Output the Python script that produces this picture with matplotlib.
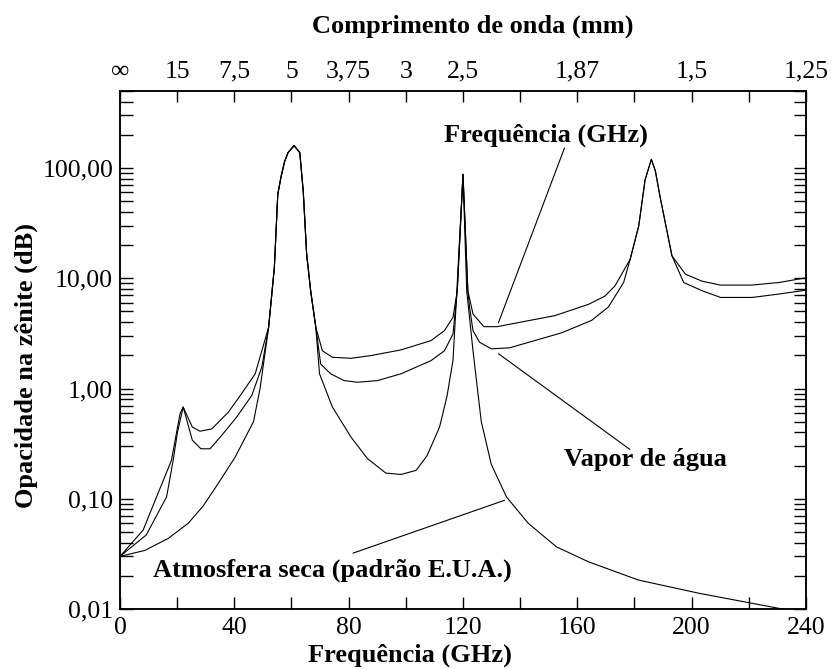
import numpy as np
import matplotlib.pyplot as plt
from matplotlib.ticker import LogLocator, NullFormatter

# Fonte com serifa parecida com Times
plt.rcParams['font.family'] = ['Liberation Serif', 'DejaVu Serif']

# Curva superior (total)
freq_total = [0, 8.1, 12.8, 18, 19.8, 21, 22.1, 25.3, 28, 32.1, 37.9, 42.5, 47.3, 52,
              54, 55.2, 56.4, 57.6, 58.8, 60.9, 62.9, 64.1, 65.3, 66.7, 68.5,
              70.8, 74.3, 80.8, 87.8, 98.3, 108.8, 113.5, 116.5, 118, 120, 121.7,
              123.5, 127.3, 132, 142.8, 152.1, 163.9, 169.7, 173.2, 178.5, 181.5,
              183.7, 185.9, 187.3, 189, 193.1, 197.8, 203.7, 210.1, 221, 230.6, 240]
opac_total = [0.03, 0.052, 0.104, 0.223, 0.40, 0.59, 0.68, 0.447, 0.41, 0.43, 0.61, 0.895, 1.36, 3.6,
              12.5, 57.8, 84.7, 115, 138, 160, 138, 62, 16.6, 7.7, 3.6,
              2.2, 1.92, 1.88, 1.99, 2.24, 2.72, 3.35, 4.42, 7.7, 87.7, 7.7,
              4.74, 3.64, 3.64, 4.12, 4.58, 5.8, 6.9, 8.55, 14.9, 30,
              78, 120, 94, 54, 16, 10.9, 9.4, 8.67, 8.67, 9.16, 10.1]

# Curva do vapor de agua
freq_vapor = [0, 9.2, 16.3, 18.6, 20.1, 22.1, 25.3, 28.3, 31.5, 35.6, 40.8, 46.1, 49.6, 52,
              54, 55.2, 56.4, 57.6, 58.8, 60.9, 62.9, 64.1, 65.3, 66.7, 68.5,
              70.2, 73.7, 78.4, 83.1, 90.1, 98.3, 108.8, 113.5, 116.5, 118, 120, 121.7,
              122.3, 123.5, 125.8, 129.9, 136.3, 154.5, 165, 170.9, 176.2, 178.5, 181.5,
              183.7, 185.9, 187.3, 189, 193.1, 197.2, 203.7, 210.1, 221.2, 230.6, 240]
opac_vapor = [0.03, 0.047, 0.104, 0.223, 0.40, 0.68, 0.34, 0.284, 0.284, 0.376, 0.55, 0.865, 1.56, 3.6,
              12.5, 57.8, 84.7, 115, 138, 160, 138, 62, 16.6, 7.7, 3.6,
              1.67, 1.36, 1.18, 1.14, 1.18, 1.36, 1.79, 2.2, 3.12, 7.7, 87.7, 7.7,
              5.45, 3.35, 2.63, 2.29, 2.34, 3.2, 4.15, 5.5, 9.16, 14.9, 30,
              78, 120, 94, 54, 16, 9.16, 7.7, 6.7, 6.7, 7.2, 7.8]

# Curva da atmosfera seca
freq_seca = [0, 8.7, 16.9, 23.9, 29.1, 34.4, 40.3, 46.7, 49, 52,
             54, 55.2, 56.4, 57.6, 58.8, 60.9, 62.9, 64.1, 65.3, 66.7, 68.5,
             69.8, 74.3, 80.8, 86.6, 93, 98.3, 103.6, 107.4, 111.8, 114.4, 116.5, 117.6,
             120, 121.3, 123.5, 126.4, 129.9, 135.2, 142.8, 152.7, 163.9, 181.4, 202.5, 231.7, 240]
opac_seca = [0.03, 0.034, 0.0437, 0.06, 0.086, 0.138, 0.239, 0.50, 1.0, 3.6,
             12.5, 57.8, 84.7, 115, 138, 160, 138, 62, 16.6, 7.7, 3.6,
             1.36, 0.68, 0.363, 0.231, 0.171, 0.166, 0.181, 0.245, 0.447, 0.85, 1.8, 5.85,
             87.7, 7.7, 2.2, 0.5, 0.205, 0.104, 0.06, 0.0366, 0.0268, 0.0183, 0.0139, 0.01, 0.0088]

# Eixos e rotulos
x_ticks = [0, 20, 40, 60, 80, 100, 120, 140, 160, 180, 200, 220, 240]
x_labels = ['0', '', '40', '', '80', '', '120', '', '160', '', '200', '', '240']
top_labels = ['\u221e', '15', '7,5', '5', '3,75', '3', '2,5', '', '1,87', '', '1,5', '', '1,25']
y_ticks = [0.01, 0.1, 1, 10, 100]
y_labels = ['0,01', '0,10', '1,00', '10,00', '100,00']

fig = plt.figure(figsize=(8.38, 6.69), dpi=100)
ax = fig.add_axes([0.1432, 0.0897, 0.8186, 0.7743])

ax.plot(freq_total, opac_total, color='black', lw=0.8)
ax.plot(freq_vapor, opac_vapor, color='black', lw=0.8)
ax.plot(freq_seca, opac_seca, color='black', lw=0.8)

ax.set_yscale('log')
ax.set_xlim(0, 240)
ax.set_ylim(0.01, 500)

ax.set_yticks(y_ticks, y_labels)
ax.yaxis.set_minor_locator(LogLocator(base=10, subs=np.arange(2, 10)))
ax.yaxis.set_minor_formatter(NullFormatter())
ax.tick_params(axis='y', which='both', direction='in', length=9, width=1,
               right=True, labelsize=18.5, pad=5)
ax.set_xticks(x_ticks, x_labels)
ax.tick_params(axis='x', direction='in', length=9, width=1, labelsize=18.5, pad=6)

# Eixo superior: comprimento de onda
ax2 = ax.twiny()
ax2.set_xlim(0, 240)
ax2.set_xticks(x_ticks, top_labels)
ax2.tick_params(axis='x', direction='in', length=8, width=1, labelsize=18.5, pad=6)

for a in (ax, ax2):
    for s in a.spines.values():
        s.set_linewidth(1.1)

fig.text(0.564, 0.96, 'Comprimento de onda (mm)', ha='center', va='center',
         fontsize=19, fontweight='bold')
fig.text(0.489, 0.021, 'Frequência (GHz)', ha='center', va='center',
         fontsize=19, fontweight='bold')
fig.text(0.031, 0.454, 'Opacidade na zênite (dB)', ha='center', va='center',
         rotation=90, fontsize=19, fontweight='bold')

# Legendas dentro do grafico com linhas de chamada
ax.text(113.4, 173, 'Frequência (GHz)', ha='left', va='baseline', fontsize=19, fontweight='bold')
ax.annotate('', xy=(132.4, 3.95), xytext=(155.5, 151.8),
            arrowprops=dict(arrowstyle='-', lw=0.8, shrinkA=0, shrinkB=0))

ax.text(155.2, 0.197, 'Vapor de água', ha='left', va='baseline', fontsize=19, fontweight='bold')
ax.annotate('', xy=(132.4, 2.07), xytext=(178.4, 0.28),
            arrowprops=dict(arrowstyle='-', lw=0.8, shrinkA=0, shrinkB=0))

ax.text(11.6, 0.0196, 'Atmosfera seca (padrão E.U.A.)', ha='left', va='baseline',
        fontsize=19, fontweight='bold')
ax.annotate('', xy=(134.5, 0.0968), xytext=(81.5, 0.0321),
            arrowprops=dict(arrowstyle='-', lw=0.8, shrinkA=0, shrinkB=0))

fig.savefig('out.png', dpi=100)
print('Gráfico salvo em out.png')
